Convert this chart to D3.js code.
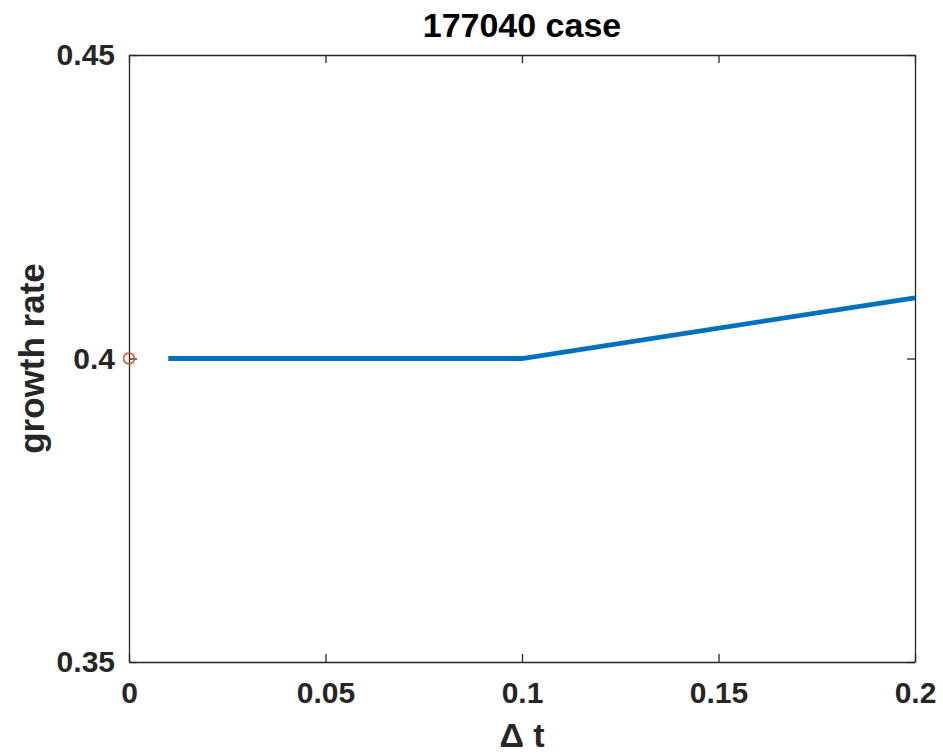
<!DOCTYPE html>
<html><head><meta charset="utf-8">
<script src="https://cdn.jsdelivr.net/npm/d3@7"></script>
<style>body{margin:0;background:#fff;} text{font-family:"Liberation Sans",Arial,sans-serif;font-weight:bold;}</style>
</head><body>
<svg id="c" width="943" height="755"></svg>
<script>
const title = "177040 case";
const xLabel = "\u0394 t";
const yLabel = "growth rate";
const dtValues = [0.01, 0.02, 0.05, 0.1, 0.2];
const growthValues = [0.4, 0.4, 0.4, 0.4, 0.41];
const refX = [0];
const refY = [0.4];
const xTicks = [0, 0.05, 0.1, 0.15, 0.2];
const yTicks = [0.35, 0.4, 0.45];

const svg = d3.select("#c");
const L = 129, R = 915, T = 55, B = 662;
const x = d3.scaleLinear().domain([0, 0.2]).range([L, R]);
const y = d3.scaleLinear().domain([0.35, 0.45]).range([B, T]);
const fmt = d => String(d);
const tl = 8;

// axes
const ax = svg.append("g");
ax.append("g").attr("transform", `translate(0,${B})`)
  .call(d3.axisBottom(x).tickValues(xTicks).tickFormat(fmt).tickSizeInner(-tl).tickSizeOuter(0).tickPadding(20));
ax.append("g").attr("transform", `translate(0,${T})`)
  .call(d3.axisTop(x).tickValues(xTicks).tickFormat("").tickSizeInner(-tl).tickSizeOuter(0));
ax.append("g").attr("transform", `translate(${L},0)`)
  .call(d3.axisLeft(y).tickValues(yTicks).tickFormat(fmt).tickSizeInner(-tl).tickSizeOuter(0).tickPadding(14));
ax.append("g").attr("transform", `translate(${R},0)`)
  .call(d3.axisRight(y).tickValues(yTicks).tickFormat("").tickSizeInner(-tl).tickSizeOuter(0));
ax.selectAll(".domain").attr("stroke", "#262626").attr("stroke-width", 1.3);
ax.selectAll(".tick line").attr("stroke", "#262626").attr("stroke-width", 1.3);
ax.selectAll(".tick text").attr("fill", "#262626").style("font-size", "30px").style("font-weight", "bold")
  .style("font-family", "'Liberation Sans',Arial,sans-serif");

// line
svg.append("path").datum(dtValues.map((d, i) => [d, growthValues[i]]))
  .attr("fill", "none").attr("stroke", "#0072BD").attr("stroke-width", 4.8)
  .attr("d", d3.line().x(d => x(d[0])).y(d => y(d[1])));

// reference marker
svg.selectAll("circle.ref").data(refX.map((d, i) => [d, refY[i]])).enter().append("circle")
  .attr("cx", d => x(d[0])).attr("cy", d => y(d[1])).attr("r", 5.5)
  .attr("fill", "none").attr("stroke", "#D95319").attr("stroke-width", 1.5);

// labels
svg.append("text").attr("x", (L + R) / 2).attr("y", 37).attr("text-anchor", "middle")
  .style("font-size", "34px").attr("fill", "#000").text(title);
svg.append("text").attr("x", (L + R) / 2).attr("y", 747).attr("text-anchor", "middle")
  .style("font-size", "34px").attr("fill", "#262626").text(xLabel);
svg.append("text").attr("transform", `translate(44,${(T + B) / 2}) rotate(-90)`).attr("text-anchor", "middle")
  .style("font-size", "35px").attr("fill", "#262626").text(yLabel);
</script>
</body></html>
